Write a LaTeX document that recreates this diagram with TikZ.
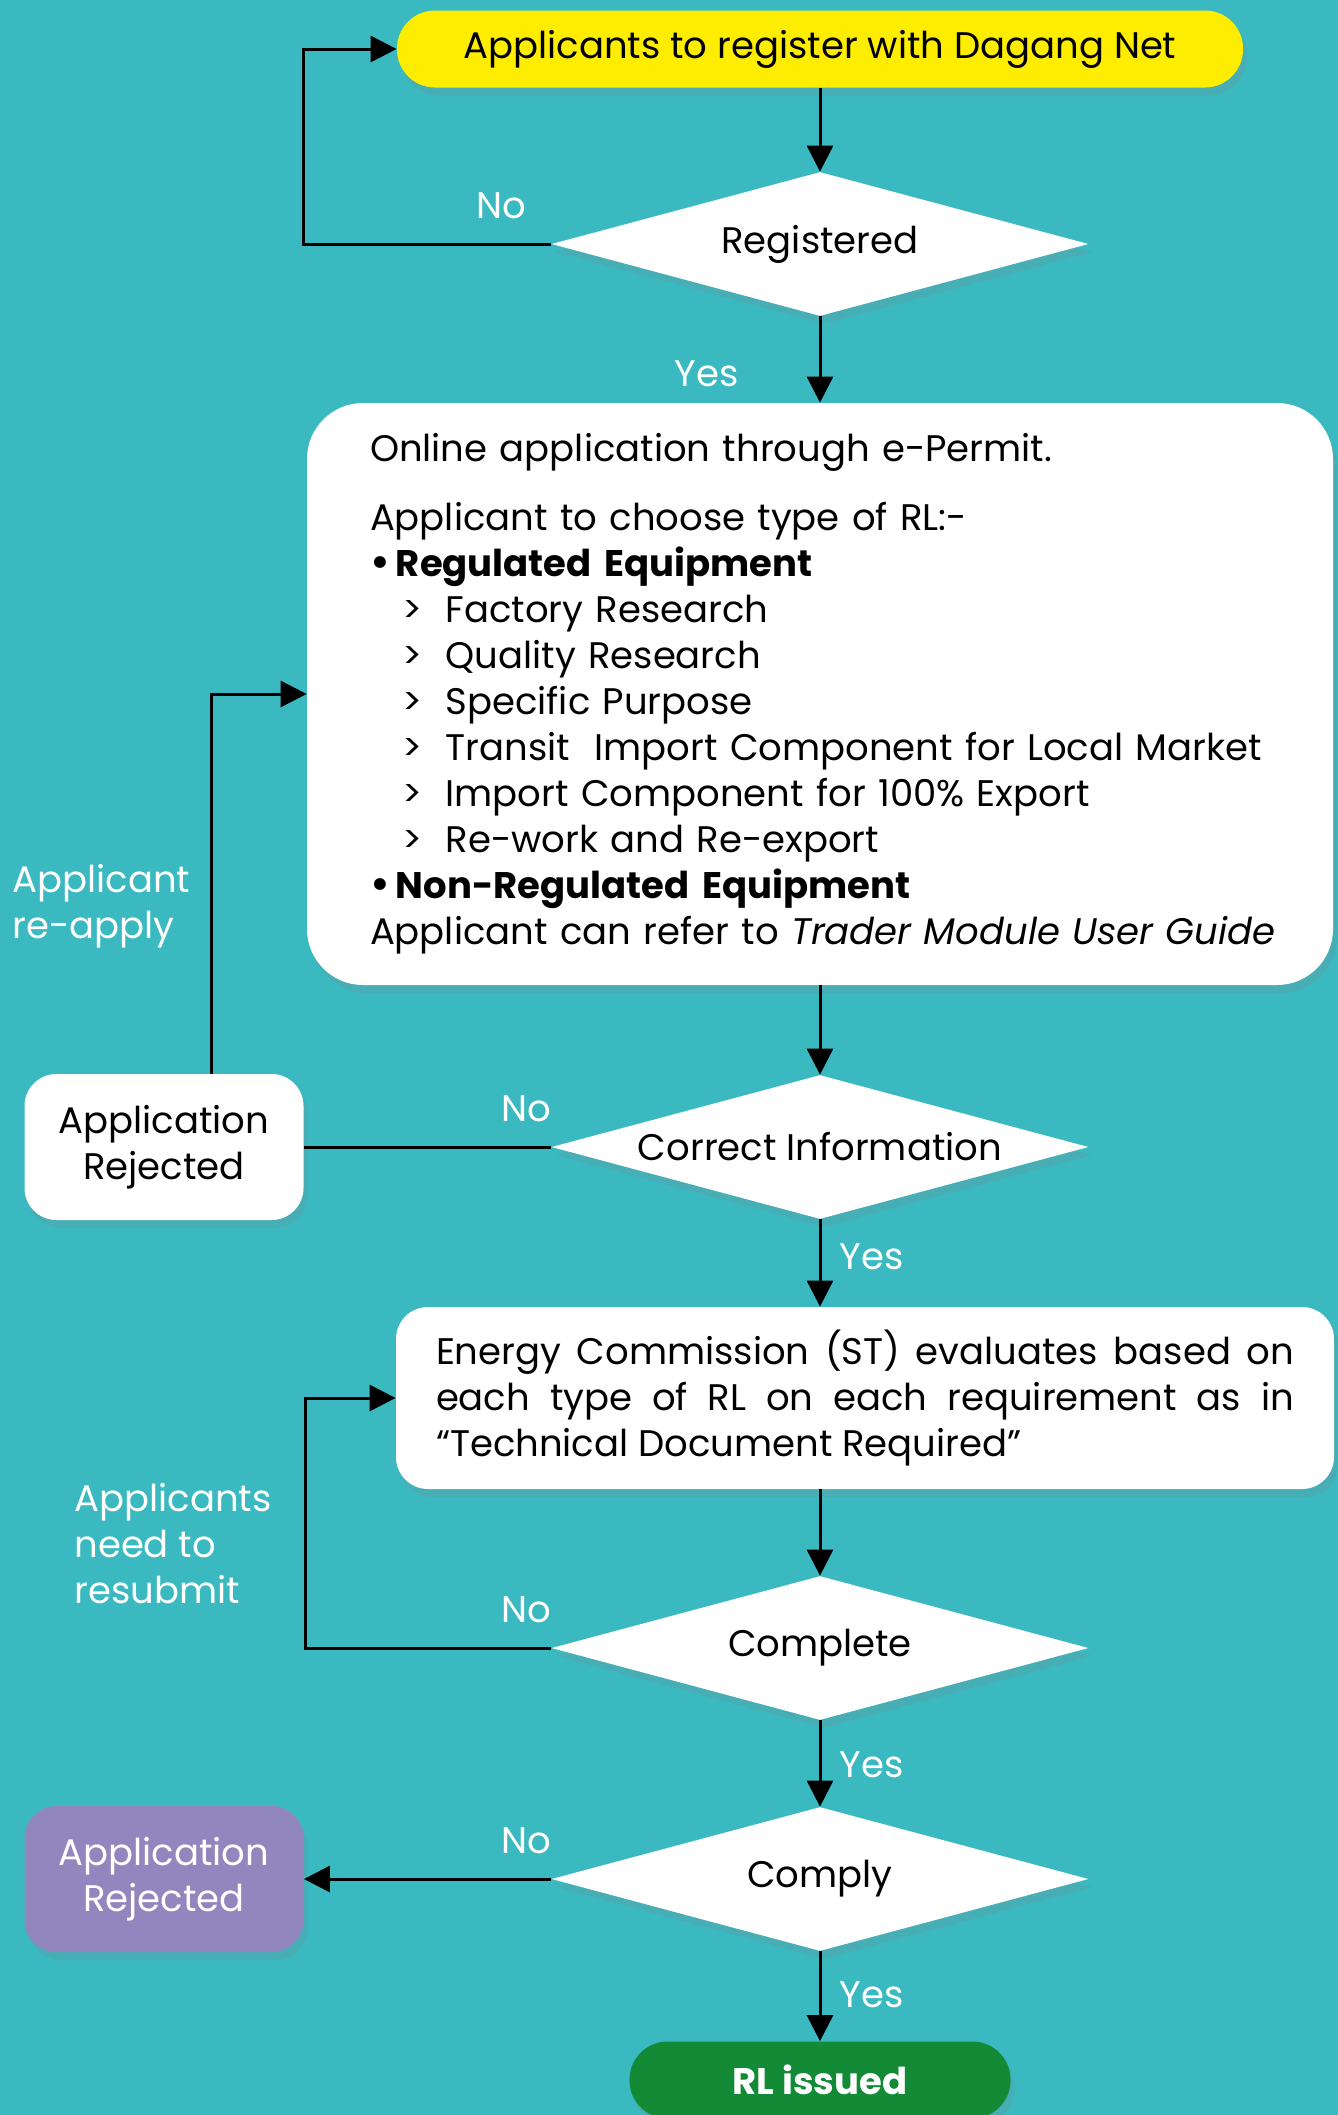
\documentclass[tikz,border=0pt]{standalone}
\usepackage{fontspec}
\setmainfont{Poppins}
\usepackage{xcolor}
\usepackage{tikz}
\usetikzlibrary{shapes.geometric,arrows.meta,shadows}
\definecolor{permitteal}{RGB}{59,185,193}
\definecolor{permityellow}{RGB}{255,237,0}
\definecolor{permitpurple}{RGB}{145,135,190}
\definecolor{permitgreen}{RGB}{18,138,54}
\newcommand{\bigdot}{{\fontsize{24}{23}\selectfont\raisebox{-1pt}{\textbullet}}\,}

\begin{document}
\begin{tikzpicture}[auto,
    font=\fontsize{18.5}{23}\selectfont,
    panel/.style={fill=white, drop shadow={opacity=0.18, shadow xshift=2pt, shadow yshift=-4pt}},
    choice/.style={panel, diamond, aspect=3.7, minimum width=268.5pt, minimum height=72pt, inner sep=0pt},
    flow/.style={line width=1.5pt, -{Triangle[length=13pt, width=13pt]}},
    link/.style={line width=1.5pt},
    lbl/.style={text=white, inner sep=0pt}]
    \useasboundingbox (0,0) rectangle (669pt,-1057.5pt);
    \fill[permitteal] (0,0) rectangle (669pt,-1057.5pt);

    \node[panel, fill=permityellow, rounded corners=19pt, minimum width=423pt, minimum height=38.5pt] (start) at (410pt,-24.5pt) {Applicants to register with Dagang Net};
    \node[choice, node distance=97.5pt, below of=start] (reg) {Registered};
    \node[panel, node distance=225pt, below of=reg, minimum width=513pt, minimum height=291pt, rounded corners=28pt, text width=450pt, inner xsep=31.5pt, align=left] (apply) {Online application through e-Permit.\\[11.5pt]
        Applicant to choose type of RL:-\\
        \bigdot\textbf{Regulated Equipment}\\
        \hspace*{16pt}\makebox[21.8pt][l]{>}Factory Research\\
        \hspace*{16pt}\makebox[21.8pt][l]{>}Quality Research\\
        \hspace*{16pt}\makebox[21.8pt][l]{>}Specific Purpose\\
        \hspace*{16pt}\makebox[21.8pt][l]{>}Transit\ \ Import Component for Local Market\\
        \hspace*{16pt}\makebox[21.8pt][l]{>}Import Component for 100\% Export\\
        \hspace*{16pt}\makebox[21.8pt][l]{>}Re-work and Re-export\\
        \bigdot\textbf{Non-Regulated Equipment}\\
        \mbox{Applicant can refer to \textit{Trader Module User Guide}}};
    \node[choice, node distance=226.5pt, below of=apply] (correct) {Correct Information};
    \node[panel, node distance=328pt, left of=correct, minimum width=139.5pt, minimum height=73pt, rounded corners=16pt, align=center] (recheck) {Application\\Rejected};
    \node[panel, node distance=125.5pt, below of=correct, xshift=22.5pt, minimum width=469pt, minimum height=91pt, rounded corners=16pt, text width=429pt, inner xsep=20pt, align=justify] (evaluate) {\hyphenpenalty=10000 Energy Commission (ST) evaluates based on\linebreak
        each type of RL on each requirement as in\linebreak
        “Technical Document Required”};
    \node[choice, node distance=125pt, below of=evaluate, xshift=-22.5pt] (complete) {Complete};
    \node[choice, node distance=115.5pt, below of=complete] (comply) {Comply};
    \node[panel, fill=permitpurple, text=white, node distance=328pt, left of=comply, minimum width=139.5pt, minimum height=73pt, rounded corners=16pt, align=center] (rejected) {Application\\Rejected};
    \node[panel, fill=permitgreen, text=white, node distance=100.5pt, below of=comply, rounded corners=19pt, minimum width=190.5pt, minimum height=38.5pt] (issued) {\textbf{RL issued}};

    % side notes
    \node[lbl, align=left, anchor=west] (reapply) at ([xshift=-6pt, yshift=83.5pt]recheck.north west) {Applicant\\re-apply};
    \node[lbl, align=left, anchor=west] (resubmit) at (37pt,-772pt) {Applicants\\need to\\resubmit};

    \draw[flow] (start) -- (reg);
    \draw[flow] (reg.west) -- node[lbl, above=12pt, pos=0.2] {No} ++(-124pt,0) |- (start.west);
    \draw[flow] (reg) -- node[lbl, left=40pt, pos=0.66] {Yes} (apply);
    \draw[flow] (apply) -- (correct);
    \draw[link] (correct.west) -- node[lbl, above=12pt, pos=0.1] {No} (recheck.east);
    \draw[flow] ([xshift=23.5pt]recheck.north) |- (apply.west);
    \draw[flow] (correct.south) -- node[lbl, right=9pt, pos=0.43] {Yes} (correct.south |- evaluate.north);
    \draw[flow] (evaluate.south -| complete.north) -- (complete.north);
    \draw[flow] (complete.west) -- node[lbl, above=12pt, pos=0.1] {No} ++(-123pt,0) |- (evaluate.west);
    \draw[flow] (complete) -- node[lbl, right=9pt, pos=0.52] {Yes} (comply);
    \draw[flow] (comply.west) -- node[lbl, above=12pt, pos=0.1] {No} (rejected.east);
    \draw[flow] (comply) -- node[lbl, right=9pt, pos=0.48] {Yes} (issued);
\end{tikzpicture}
\end{document}
